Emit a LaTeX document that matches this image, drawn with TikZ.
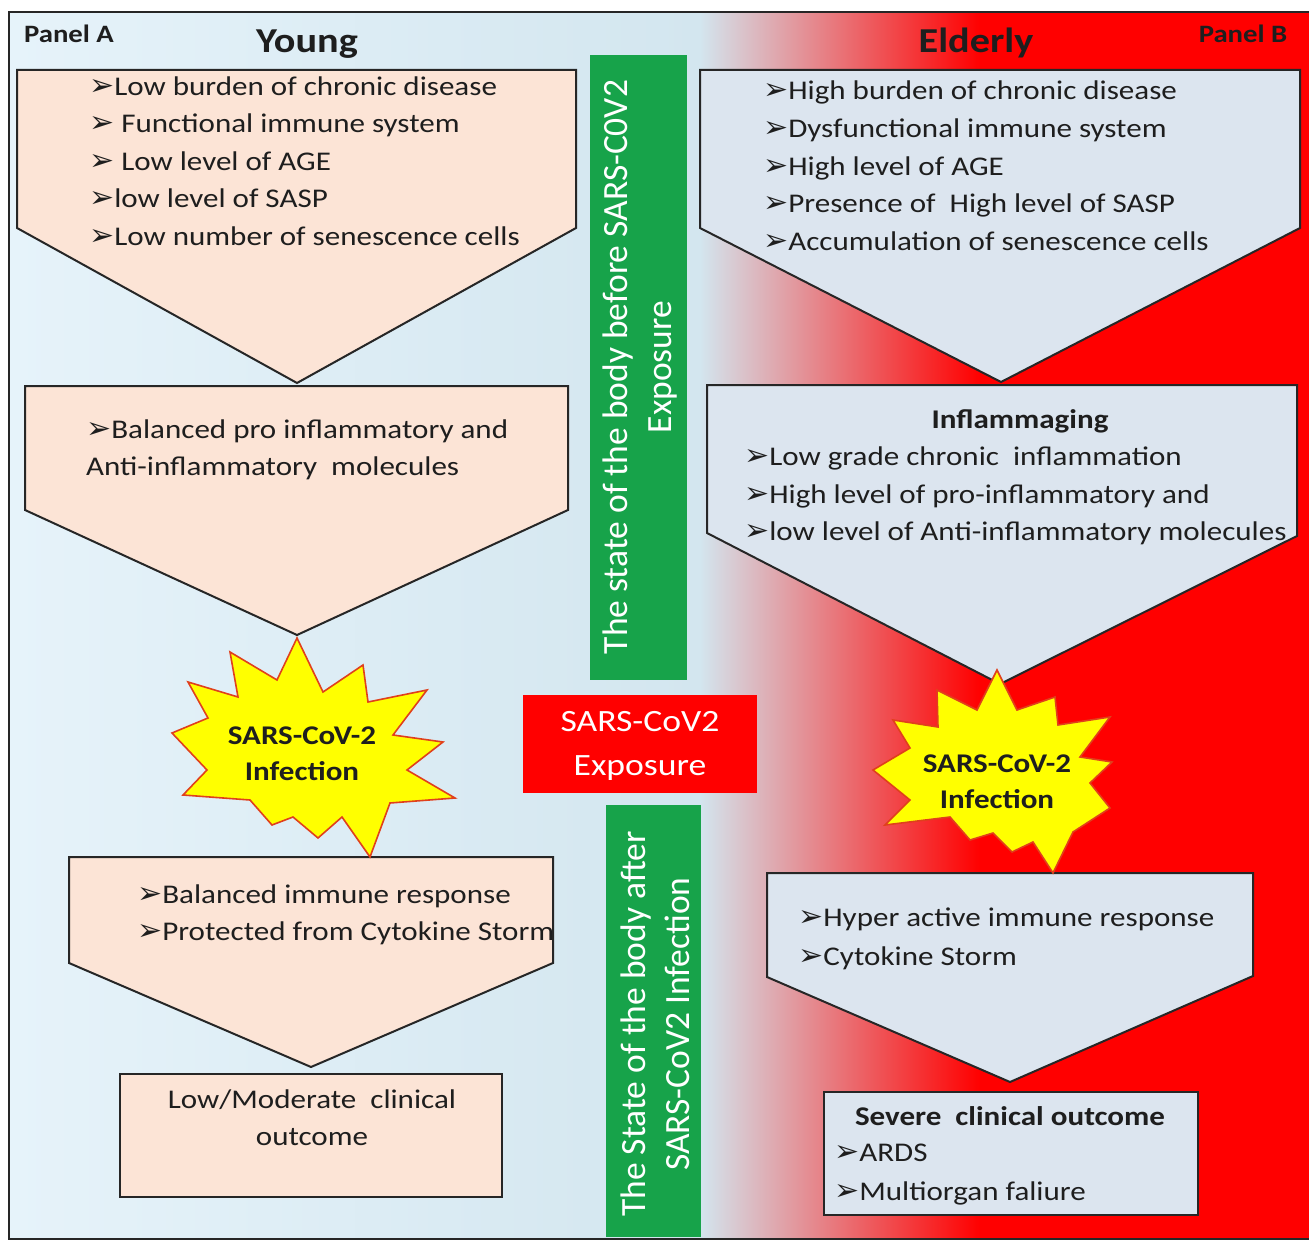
\documentclass[tikz,border=0pt]{standalone}
\usepackage{fontspec}
\setmainfont{Carlito}[FakeStretch=1.15]
\newfontfamily\plainfont{Carlito}
\newfontfamily\dejavu{DejaVu Sans}
\newcommand{\arr}{{\dejavu\fontsize{30}{30}\selectfont ➢}}
\definecolor{ink}{HTML}{1E1E1E}
\definecolor{edge}{HTML}{262626}
\definecolor{peach}{HTML}{FCE4D6}
\definecolor{steel}{HTML}{DCE5EF}
\definecolor{bgA}{HTML}{E6F3FA}
\definecolor{bgB}{HTML}{D3E6EF}
\definecolor{pure}{HTML}{FF0000}
\definecolor{gbar}{HTML}{17A34A}
\definecolor{starline}{HTML}{E0401C}
\definecolor{staryel}{HTML}{FFFF00}
\tikzset{
  penA/.style={draw=edge, line width=2pt, fill=peach, line join=miter},
  penB/.style={draw=edge, line width=2pt, fill=steel, line join=miter},
  txt/.style={inner sep=0pt, anchor=base west, text=ink, font=\fontsize{27}{37}\selectfont},
  txtc/.style={txt, anchor=base},
  ttl/.style={inner sep=0pt, anchor=base, text=ink, font=\bfseries\fontsize{35}{40}\selectfont},
  panel/.style={inner sep=0pt, anchor=base, text=ink, font=\bfseries\fontsize{25}{28}\selectfont},
  burst/.style={fill=staryel, draw=starline, line width=1.6pt, line join=miter},
  bursttxt/.style={inner sep=0pt, align=center, text=ink, font=\bfseries\fontsize{27}{36}\selectfont},
  gtxt/.style={inner sep=0pt, text=white, rotate=90, align=center, font=\plainfont\fontsize{35.5}{44}\selectfont},
  rtxt/.style={inner sep=0pt, text=white, align=center, font=\fontsize{31}{44}\selectfont},
}
\begin{document}
\begin{tikzpicture}[x=1pt, y=-1pt]
\useasboundingbox (0,0) rectangle (1309,1241);
\fill[white] (0,0) rectangle (1309,1241);
% background
\shade[left color=bgA, right color=bgB] (9,12) rectangle (700,1239);
\shade[left color=bgB, right color=pure] (699.5,12) rectangle (980,1239);
\fill[pure] (979.5,12) rectangle (1312,1239);
\draw[edge, line width=2.5pt] (1312,12) -- (9,12) -- (9,1239) -- (1312,1239);

% titles
\node[panel] (pA) at (69,43) {Panel A};
\node[ttl] (young) at (307,53) {Young};
\node[ttl] (elderly) at (976,53) {Elderly};
\node[panel] (pB) at (1243,43) {Panel B};

% middle bars
\fill[gbar] (590,55) rectangle (687,680);
\node[gtxt] (gtop) at (640,367) {The state of the body before SARS-C0V2\\Exposure};
\fill[pure] (523,695) rectangle (757,793);
\node[rtxt] (exp) at (640,746) {SARS-CoV2\\Exposure};
\fill[gbar] (606,805) rectangle (701,1237);
\node[gtxt] (gbot) at (655,1024) {The State of the body after\\SARS-CoV2 Infection};

% ---- left panel ----
\draw[penA] (17,70) -- (576,70) -- (576,228) -- (297,383) -- (17,228) -- cycle;
\node[txt] (a1) at (89,96) {\arr Low burden of chronic disease};
\node[txt] (a2) at (89,133) {\arr\ Functional immune system};
\node[txt] (a3) at (89,171) {\arr\ Low level of AGE};
\node[txt] (a4) at (89,208) {\arr low level of SASP};
\node[txt] (a5) at (89,246) {\arr Low number of senescence cells};

\draw[penA] (25,386) -- (568,386) -- (568,510) -- (297,635) -- (25,510) -- cycle;
\node[txt] (b1) at (86,438) {\arr Balanced pro inflammatory and};
\node[txt] (b2) at (86,475) {Anti-inflammatory\ \ molecules};

\draw[penA] (69,857) -- (553,857) -- (553,963) -- (311,1067) -- (69,963) -- cycle;
\node[txt] (c1) at (137,903) {\arr Balanced immune response};
\node[txt] (c2) at (137,940) {\arr Protected from Cytokine Storm};

\draw[penA] (120,1074) rectangle (502,1197);
\node[txtc] (d1) at (312,1108) {Low/Moderate\ \ clinical};
\node[txtc] (d2) at (312,1145) {outcome};

\draw[burst] (297,638) -- (323,692) -- (363,665) -- (368,702) -- (427,690) -- (393,735) -- (443,742) -- (407,770) -- (455,798) -- (390,803) -- (370,857) -- (342,817) -- (318,838) -- (293,817) -- (272,825) -- (250,800) -- (183,795) -- (207,770) -- (172,733) -- (208,718) -- (188,682) -- (238,697) -- (230,652) -- (277,680) -- cycle;
\node[bursttxt] (sL) at (302,754) {SARS-CoV-2\\Infection};

% ---- right panel ----
\draw[penB] (700,70) -- (1300,70) -- (1300,228) -- (1001,382) -- (700,228) -- cycle;
\node[txt] (e1) at (763,100) {\arr High burden of chronic disease};
\node[txt] (e2) at (763,138) {\arr Dysfunctional immune system};
\node[txt] (e3) at (763,176) {\arr High level of AGE};
\node[txt] (e4) at (763,213) {\arr Presence of\ \ High level of SASP};
\node[txt] (e5) at (763,251) {\arr Accumulation of senescence cells};

\draw[penB] (707,385) -- (1297,385) -- (1297,536) -- (1000,684) -- (707,533) -- cycle;
\node[txtc, font=\bfseries\fontsize{27}{37}\selectfont] (f0) at (1020,428) {Inflammaging};
\node[txt] (f1) at (744,465) {\arr Low grade chronic\ \ inflammation};
\node[txt] (f2) at (744,503) {\arr High level of pro-inflammatory and};
\node[txt] (f3) at (744,540) {\arr low level of Anti-inflammatory molecules};

\draw[penB] (767,873) -- (1253,873) -- (1253,976) -- (1010,1082) -- (767,977) -- cycle;
\node[txt] (g1) at (798,926) {\arr Hyper active immune response};
\node[txt] (g2) at (798,965) {\arr Cytokine Storm};

\draw[penB] (824,1092) rectangle (1198,1215);
\node[txtc, font=\bfseries\fontsize{27}{37}\selectfont] (h0) at (1010,1125) {Severe\ \ clinical outcome};
\node[txt] (h1) at (834,1161) {\arr ARDS};
\node[txt] (h2) at (834,1200) {\arr Multiorgan faliure};

\draw[burst] (997,670) -- (1017,710) -- (1055,697) -- (1058,725) -- (1110,717) -- (1080,757) -- (1112,762) -- (1090,783) -- (1110,808) -- (1073,832) -- (1053,873) -- (1033,842) -- (1012,852) -- (993,833) -- (970,840) -- (950,817) -- (885,825) -- (910,800) -- (873,770) -- (910,748) -- (893,720) -- (938,727) -- (937,690) -- (977,710) -- cycle;
\node[bursttxt] (sR) at (997,782) {SARS-CoV-2\\Infection};
\end{tikzpicture}
\end{document}
